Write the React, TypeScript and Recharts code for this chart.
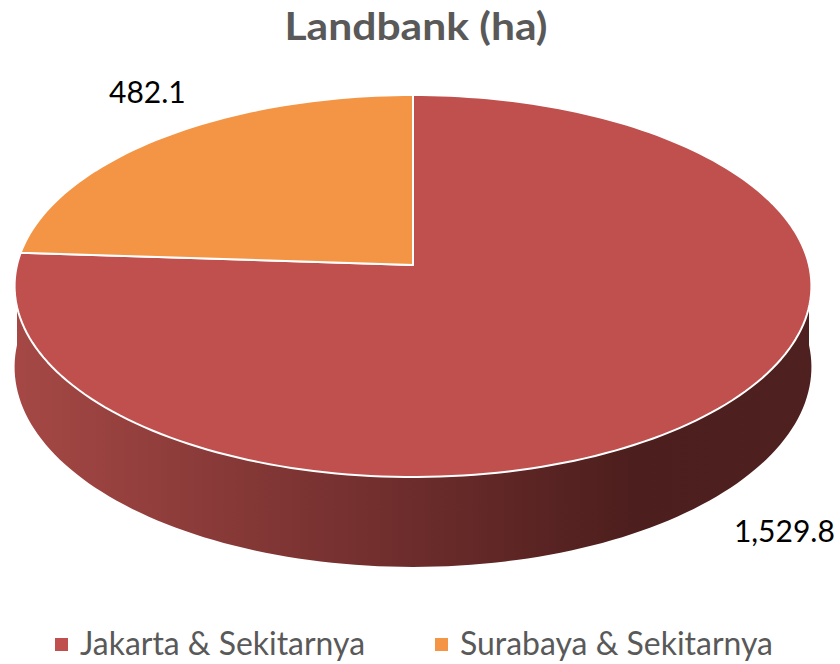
import React from 'react';
import { PieChart, Pie, Legend } from 'recharts';

// data
const regions = ['Jakarta & Sekitarnya', 'Surabaya & Sekitarnya'];
const landbank = [1529.8, 482.1];
const valueLabels = ['1,529.8', '482.1'];
const topColors = ['#c0504d', '#f39545'];

// label nudges (px) relative to the rim point at each slice's mid angle
const labelDx = [77, -15];
const labelDy = [127, -35];
// legend text widths
const legendWidths = [285, 313];

const chartData = regions.map((name, i) => ({ name, value: landbank[i] }));

// fake 3D: perspective-tilted disc
const TILT = 0.11; // perspective strength
const SQUASH = 0.4765; // vertical / horizontal radius
const DEPTH = 80; // thickness at the centre line

const project = (cx: number, cy: number, r: number, angle: number, k = 1) => {
  const rad = (angle * Math.PI) / 180;
  const u = Math.cos(rad) * k;
  const v = -Math.sin(rad) * k;
  const s = 1 / (1 - TILT * v);
  return { x: cx + r * u * s, y: cy + r * SQUASH * v * s, s };
};

const arcPoints = (cx: number, cy: number, r: number, a0: number, a1: number) => {
  const steps = Math.max(8, Math.ceil(Math.abs(a1 - a0) / 1.5));
  const pts = [];
  for (let i = 0; i <= steps; i++) {
    pts.push(project(cx, cy, r, a0 + ((a1 - a0) * i) / steps));
  }
  return pts;
};

// the parts of a slice's rim that face the viewer
const frontRanges = (a0: number, a1: number) => {
  const lo = Math.min(a0, a1);
  const hi = Math.max(a0, a1);
  const out: [number, number][] = [];
  for (let n = -2; n <= 1; n++) {
    const f0 = -180 + 360 * n;
    const f1 = 360 * n;
    const s = Math.max(lo, f0);
    const e = Math.min(hi, f1);
    if (e > s) out.push([s, e]);
  }
  return out;
};

const Slice3D = (props: any) => {
  const { cx, cy, outerRadius, startAngle, endAngle, midAngle, index } = props;
  const r = outerRadius;
  const sides = frontRanges(startAngle, endAngle).map(([s, e]) => {
    const top = arcPoints(cx, cy, r, s, e);
    const bottom = top.map((p) => ({ x: p.x, y: p.y + DEPTH * p.s })).reverse();
    return 'M' + top.concat(bottom).map((p) => `${p.x.toFixed(2)},${p.y.toFixed(2)}`).join('L') + 'Z';
  });
  const rim = arcPoints(cx, cy, r, startAngle, endAngle);
  const topPath =
    `M${cx},${cy}L` + rim.map((p) => `${p.x.toFixed(2)},${p.y.toFixed(2)}`).join('L') + 'Z';
  const mid = project(cx, cy, r, midAngle ?? (startAngle + endAngle) / 2);
  return (
    <g>
      <defs>
        <linearGradient id={`side-${index}`} gradientUnits="userSpaceOnUse" x1={cx - r} y1={0} x2={cx + r} y2={0}>
          <stop offset="0" stopColor="#a54845" />
          <stop offset="0.45" stopColor="#722f2e" />
          <stop offset="0.78" stopColor="#4c1e1d" />
          <stop offset="1" stopColor="#4e201f" />
        </linearGradient>
      </defs>
      {sides.map((d, i) => (
        <path key={i} d={d} fill={`url(#side-${index})`} stroke="none" />
      ))}
      <path d={topPath} fill={topColors[index]} stroke="#ffffff" strokeWidth={2} strokeLinejoin="round" />
      <text
        x={mid.x + labelDx[index]}
        y={mid.y + labelDy[index]}
        textAnchor="middle"
        fontFamily="Lato, 'Noto Sans', sans-serif"
        fontSize={30}
        fill="#000000"
      >
        {valueLabels[index]}
      </text>
    </g>
  );
};

const renderLegend = () => {
  let x = 55;
  const items = regions.map((name, i) => {
    const item = (
      <g key={name}>
        <rect x={x} y={35} width={13} height={13} fill={topColors[i]} />
        <text
          x={x + 25}
          y={52}
          fontFamily="Lato, 'Noto Sans', sans-serif"
          fontSize={32}
          fill="#595959"
          textLength={legendWidths[i]}
          lengthAdjust="spacingAndGlyphs"
        >
          {name}
        </text>
      </g>
    );
    x += 380;
    return item;
  });
  return (
    <svg width={840} height={61} style={{ display: 'block' }}>
      {items}
    </svg>
  );
};

export default function App() {
  return (
    <div style={{ position: 'absolute', left: 0, top: 0, width: 840, height: 664, background: '#ffffff' }}>
      <PieChart width={840} height={664} margin={{ top: 0, right: 0, bottom: 0, left: 0 }}>
        <text
          x={416}
          y={40}
          textAnchor="middle"
          fontFamily="Lato, 'Noto Sans', sans-serif"
          fontWeight="bold"
          fontSize={38}
          fill="#595959"
          textLength={263}
          lengthAdjust="spacingAndGlyphs"
        >
          Landbank (ha)
        </text>
        <Pie
          data={chartData}
          dataKey="value"
          nameKey="name"
          cx={413}
          cy={265}
          outerRadius={396}
          startAngle={90}
          endAngle={-270}
          fill="none"
          stroke="none"
          label={Slice3D}
          labelLine={false}
          isAnimationActive={false}
        />
        <Legend
          content={renderLegend}
          wrapperStyle={{ position: 'absolute', left: 0, top: 603, width: 840, height: 61 }}
        />
      </PieChart>
    </div>
  );
}
